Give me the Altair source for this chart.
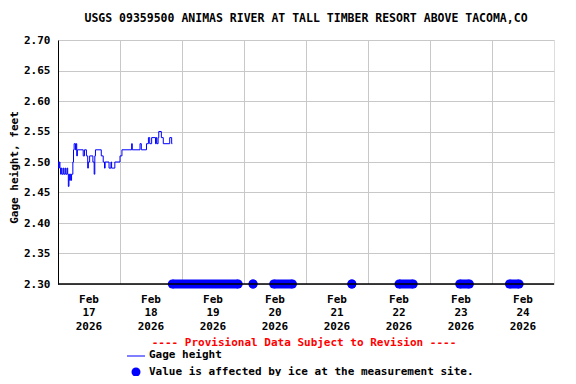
import altair as alt
import pandas as pd

FONT = "DejaVu Sans Mono"
BLUE = "#0000ff"
GRID = "#c8c8c8"

title_text = "USGS 09359500 ANIMAS RIVER AT TALL TIMBER RESORT ABOVE TACOMA,CO"
provisional_text = "---- Provisional Data Subject to Revision ----"
legend_line_text = "Gage height"
legend_ice_text = "Value is affected by ice at the measurement site."

gage_times = [
    "2026-02-17T00:00", "2026-02-17T00:15", "2026-02-17T00:30", "2026-02-17T00:45",
    "2026-02-17T01:00", "2026-02-17T01:15", "2026-02-17T01:30", "2026-02-17T02:00",
    "2026-02-17T02:15", "2026-02-17T02:45", "2026-02-17T03:00", "2026-02-17T03:30",
    "2026-02-17T03:45", "2026-02-17T04:00", "2026-02-17T04:15", "2026-02-17T04:30",
    "2026-02-17T04:45", "2026-02-17T05:00", "2026-02-17T05:15", "2026-02-17T05:45",
    "2026-02-17T06:00", "2026-02-17T06:15", "2026-02-17T06:45", "2026-02-17T07:00",
    "2026-02-17T07:15", "2026-02-17T07:30", "2026-02-17T09:45", "2026-02-17T10:15",
    "2026-02-17T11:00", "2026-02-17T11:30", "2026-02-17T11:45", "2026-02-17T12:15",
    "2026-02-17T13:30", "2026-02-17T14:00", "2026-02-17T14:15", "2026-02-17T14:30",
    "2026-02-17T16:45", "2026-02-17T17:30", "2026-02-17T18:00", "2026-02-17T18:15",
    "2026-02-17T19:45", "2026-02-17T20:30", "2026-02-17T20:45", "2026-02-17T22:00",
    "2026-02-18T00:00", "2026-02-18T00:45", "2026-02-18T04:30", "2026-02-18T04:45",
    "2026-02-18T07:45", "2026-02-18T08:15", "2026-02-18T10:15", "2026-02-18T11:00",
    "2026-02-18T11:30", "2026-02-18T12:15", "2026-02-18T13:45", "2026-02-18T14:00",
    "2026-02-18T14:15", "2026-02-18T14:45", "2026-02-18T15:00", "2026-02-18T16:00",
    "2026-02-18T16:45", "2026-02-18T19:15", "2026-02-18T20:00", "2026-02-18T20:15",
]
gage_values = [
    2.50, 2.49, 2.50, 2.49,
    2.48, 2.49, 2.48, 2.49,
    2.48, 2.49, 2.48, 2.49,
    2.48, 2.46, 2.48, 2.47,
    2.48, 2.47, 2.48, 2.50,
    2.52, 2.53, 2.52, 2.53,
    2.51, 2.52, 2.51, 2.52,
    2.51, 2.49, 2.50, 2.51,
    2.50, 2.48, 2.51, 2.52,
    2.51, 2.50, 2.49, 2.50,
    2.49, 2.50, 2.49, 2.50,
    2.51, 2.52, 2.53, 2.52,
    2.53, 2.52, 2.53, 2.54,
    2.53, 2.54, 2.53, 2.54,
    2.53, 2.54, 2.55, 2.54,
    2.53, 2.54, 2.53, 2.53,
]

# Ice-affected periods (start, end) plotted at the bottom of the axis
ice_starts = [
    "2026-02-18T20:15", "2026-02-20T03:30", "2026-02-20T11:30", "2026-02-21T17:45",
    "2026-02-22T12:00", "2026-02-23T11:30", "2026-02-24T06:45",
]
ice_ends = [
    "2026-02-19T21:45", "2026-02-20T03:30", "2026-02-20T18:45", "2026-02-21T17:45",
    "2026-02-22T17:30", "2026-02-23T15:15", "2026-02-24T10:30",
]
ice_level = 2.30

label_times = [
    "2026-02-17T12:00", "2026-02-18T12:00", "2026-02-19T12:00", "2026-02-20T12:00",
    "2026-02-21T12:00", "2026-02-22T12:00", "2026-02-23T12:00", "2026-02-24T12:00",
]
label_months = ["Feb"] * 8
label_days = ["17", "18", "19", "20", "21", "22", "23", "24"]
label_years = ["2026"] * 8

grid_days = [18, 19, 20, 21, 22, 23, 24]
y_ticks = [2.30, 2.35, 2.40, 2.45, 2.50, 2.55, 2.60, 2.65, 2.70]

W, H = 496, 244
DOT = 81

gage_df = pd.DataFrame({"t": gage_times, "v": gage_values})
ice_df = pd.DataFrame({"t": ice_starts, "e": ice_ends, "v": [ice_level] * len(ice_starts)})
lab_df = pd.DataFrame({
    "t": label_times,
    "label": [f"{m}\n{d}\n{y}" for m, d, y in zip(label_months, label_days, label_years)],
})

x_scale = alt.Scale(domain=[alt.DateTime(year=2026, month=2, date=17),
                            alt.DateTime(year=2026, month=2, date=25)])
y_scale = alt.Scale(domain=[2.30, 2.70], nice=False, zero=False)

x_axis = alt.Axis(values=[alt.DateTime(year=2026, month=2, date=d) for d in grid_days],
                  grid=True, gridColor=GRID, labels=False, ticks=False, domain=False,
                  title=None)
y_axis = alt.Axis(values=y_ticks, format=".2f", grid=True, gridColor=GRID, ticks=False,
                  domainColor="black", labelFont=FONT, labelFontSize=11,
                  labelFontWeight="bold", labelColor="black", labelPadding=8,
                  labelFlush=False, labelOverlap=False, title="Gage height, feet",
                  titleFont=FONT, titleFontSize=11, titleFontWeight="bold",
                  titleColor="black", titlePadding=4, titleY=127)

X = alt.X("t:T", scale=x_scale, axis=x_axis)
Y = alt.Y("v:Q", scale=y_scale, axis=y_axis)

line = alt.Chart(gage_df).mark_line(interpolate="step-after", color=BLUE, strokeWidth=1).encode(
    x=X, y=Y)

ice_rule = alt.Chart(ice_df).mark_rule(color=BLUE, strokeWidth=9).encode(x=X, x2="e:T", y=Y)
ice_a = alt.Chart(ice_df).mark_circle(color=BLUE, size=DOT, opacity=1).encode(x=X, y=Y)
ice_b = alt.Chart(ice_df).mark_circle(color=BLUE, size=DOT, opacity=1).encode(
    x=alt.X("e:T", scale=x_scale, axis=x_axis), y=Y)

base_line = alt.Chart(pd.DataFrame({"v": [ice_level]})).mark_rule(
    color="black", strokeWidth=1.5).encode(y=Y)

date_labels = alt.Chart(lab_df).mark_text(
    lineBreak="\n", font=FONT, fontSize=11, fontWeight="bold", color="black",
    baseline="top", align="center", lineHeight=13.3,
).encode(x=X, y=alt.value(H + 10), text="label:N")

one = alt.Data(values=[{"a": 1}])

def txt(s, x, y, color="black", align="left"):
    return alt.Chart(one).mark_text(
        font=FONT, fontSize=11, fontWeight="bold", color=color, align=align,
        baseline="middle").encode(x=alt.value(x), y=alt.value(y), text=alt.value(s))

title = alt.Chart(one).mark_text(
    font=FONT, fontSize=11.5, fontWeight="bold", color="black", align="center",
    baseline="middle").encode(x=alt.value(W / 2), y=alt.value(-21), text=alt.value(title_text))

prov = txt(provisional_text, W / 2 - 2, 302.5, color="#ff0000", align="center")
leg_line = alt.Chart(one).mark_rule(color=BLUE, strokeWidth=1).encode(
    x=alt.value(69), x2=alt.value(87), y=alt.value(316))
leg_line_txt = txt(legend_line_text, 91, 315)
leg_dot = alt.Chart(one).mark_circle(color=BLUE, size=DOT, opacity=1).encode(
    x=alt.value(78), y=alt.value(332))
leg_dot_txt = txt(legend_ice_text, 91, 331.5)

chart = alt.layer(
    line, ice_rule, ice_a, ice_b, base_line, date_labels, title,
    prov, leg_line, leg_line_txt, leg_dot, leg_dot_txt,
).properties(
    width=W, height=H,
    autosize=alt.AutoSizeParams(type="none"),
    padding={"left": 50, "top": 32, "right": 10, "bottom": 92},
).configure_view(stroke="black", strokeWidth=1).configure(background="white")

chart.save("out.html", embed_options={"renderer": "svg", "actions": False})
